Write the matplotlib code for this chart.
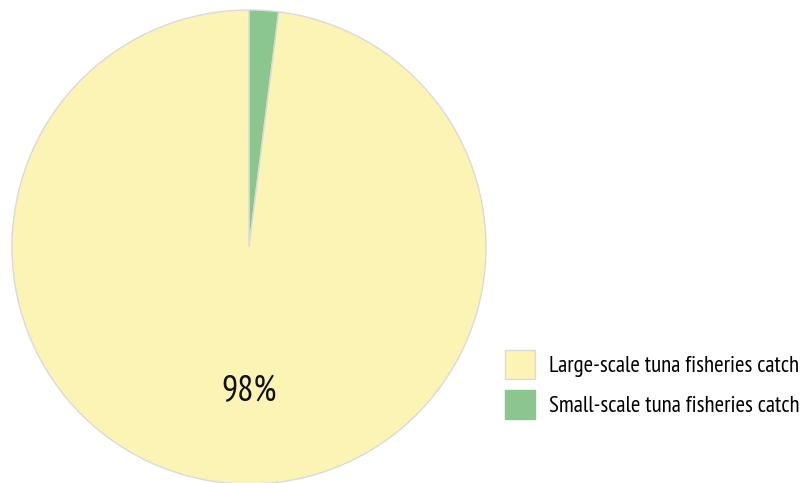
import matplotlib
matplotlib.use("Agg")
import matplotlib.pyplot as plt
from matplotlib.patches import Patch

plt.rcParams['font.family'] = ['PT Sans Narrow', 'Open Sans Condensed', 'DejaVu Sans']

categories = ["Large-scale tuna fisheries catch", "Small-scale tuna fisheries catch"]
values = [98, 2]
colors = ["#FCF4B4", "#8AC68E"]

fig = plt.figure(figsize=(8.10, 4.83), dpi=100)
ax = fig.add_axes([12/810, -1/483, 474/810, 474/483])

# small slice first, starting at 12 o'clock and going clockwise
ax.pie(values[::-1], colors=colors[::-1], startangle=90, counterclock=False,
       wedgeprops=dict(edgecolor="#DADADA", linewidth=1.0))
ax.set_xlim(-1, 1)
ax.set_ylim(-1, 1)
ax.set_aspect("equal")
ax.text(0, -0.61, f"{values[0]}%", ha="center", va="center", fontsize=26, color="#111111")

handles = [Patch(facecolor=colors[0], edgecolor="#DADADA", linewidth=1.0),
           Patch(facecolor=colors[1], edgecolor=colors[1], linewidth=1.0)]
fig.legend(handles, categories, loc="upper left", bbox_to_anchor=(505/810, 1 - 350/483),
           frameon=False, fontsize=16.5, handlelength=1.3, handleheight=1.55,
           handletextpad=0.6, labelspacing=0.5, borderaxespad=0, borderpad=0)

fig.savefig("out.png", dpi=100)
